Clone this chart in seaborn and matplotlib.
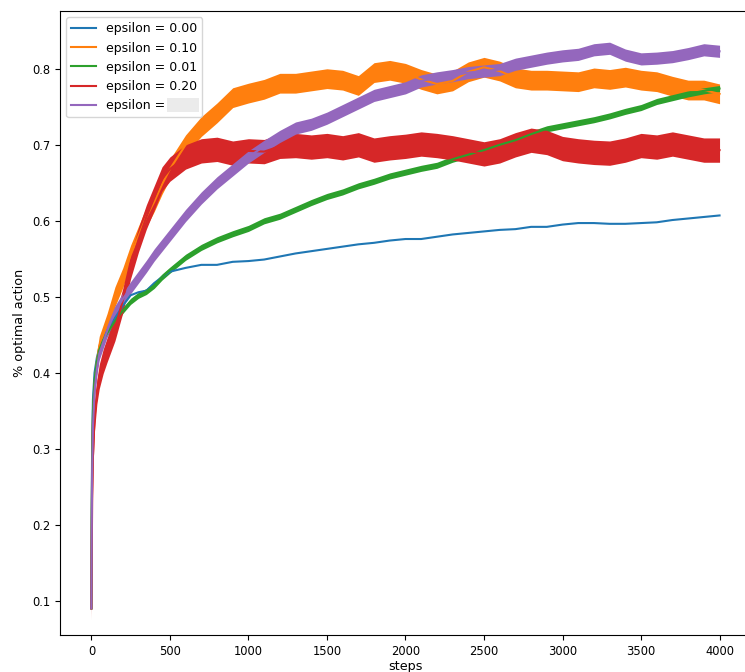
import matplotlib
matplotlib.use("Agg")
import matplotlib.pyplot as plt
from matplotlib.patches import Rectangle
from matplotlib.transforms import IdentityTransform
import numpy as np
import pandas as pd
import seaborn as sns

# Step positions at which the averaged curves are sampled
steps = [0, 2, 5, 10, 20, 35, 50, 75, 100, 150, 200, 250, 300, 350, 400, 450, 500,
         600, 700, 800, 900, 1000, 1100, 1200, 1300, 1400, 1500,
         1600, 1700, 1800, 1900, 2000, 2100, 2200, 2300, 2400, 2500,
         2600, 2700, 2800, 2900, 3000, 3100, 3200, 3300, 3400, 3500,
         3600, 3700, 3800, 3900, 4000]

labels = ["epsilon = 0.00", "epsilon = 0.10", "epsilon = 0.01",
          "epsilon = 0.20", "epsilon = "]

eps_000 = [0.09, 0.22, 0.31, 0.365, 0.40, 0.42, 0.432, 0.445, 0.455, 0.472, 0.488,
           0.502, 0.506, 0.508, 0.518, 0.526, 0.533,
           0.538, 0.542, 0.542, 0.546, 0.547, 0.549, 0.553, 0.557, 0.560, 0.563,
           0.566, 0.569, 0.571, 0.574, 0.576, 0.576, 0.579, 0.582, 0.584, 0.586,
           0.588, 0.589, 0.592, 0.592, 0.595, 0.597, 0.597, 0.596, 0.596, 0.597,
           0.598, 0.601, 0.603, 0.605, 0.607]

eps_010 = [0.09, 0.20, 0.28, 0.34, 0.385, 0.415, 0.435, 0.45, 0.465, 0.50, 0.525,
           0.555, 0.58, 0.605, 0.625, 0.648, 0.668,
           0.700, 0.724, 0.742, 0.762, 0.768, 0.773, 0.781, 0.781, 0.784, 0.787,
           0.785, 0.778, 0.795, 0.798, 0.794, 0.786, 0.780, 0.784, 0.796, 0.802,
           0.797, 0.788, 0.785, 0.785, 0.784, 0.783, 0.788, 0.786, 0.789, 0.785,
           0.783, 0.777, 0.772, 0.772, 0.767]

eps_001 = [0.09, 0.21, 0.29, 0.35, 0.39, 0.415, 0.43, 0.443, 0.452, 0.468, 0.482,
           0.494, 0.502, 0.507, 0.515, 0.526, 0.535,
           0.552, 0.565, 0.575, 0.583, 0.590, 0.600, 0.606, 0.615, 0.624, 0.632,
           0.638, 0.646, 0.652, 0.659, 0.664, 0.669, 0.673, 0.681, 0.687, 0.693,
           0.700, 0.706, 0.714, 0.721, 0.725, 0.729, 0.733, 0.738, 0.744, 0.749,
           0.757, 0.762, 0.767, 0.771, 0.774]

eps_020 = [0.09, 0.16, 0.23, 0.29, 0.34, 0.375, 0.395, 0.415, 0.43, 0.458, 0.495,
           0.54, 0.575, 0.605, 0.63, 0.655, 0.668,
           0.684, 0.692, 0.694, 0.689, 0.692, 0.691, 0.698, 0.699, 0.697, 0.699,
           0.696, 0.700, 0.693, 0.696, 0.698, 0.701, 0.699, 0.696, 0.692, 0.688,
           0.692, 0.700, 0.706, 0.703, 0.695, 0.692, 0.690, 0.689, 0.693, 0.699,
           0.697, 0.701, 0.697, 0.693, 0.693]

eps_other = [0.09, 0.19, 0.27, 0.33, 0.375, 0.405, 0.425, 0.44, 0.455, 0.48, 0.497,
             0.512, 0.526, 0.54, 0.555, 0.568, 0.581,
             0.607, 0.630, 0.650, 0.667, 0.684, 0.698, 0.711, 0.722, 0.727, 0.735,
             0.745, 0.755, 0.765, 0.770, 0.775, 0.784, 0.788, 0.791, 0.795, 0.797,
             0.799, 0.806, 0.810, 0.814, 0.817, 0.819, 0.825, 0.827, 0.818, 0.813,
             0.814, 0.816, 0.820, 0.825, 0.823]

# Half-width of the run-to-run noise band around each curve
noise_spread = [0.0, 0.013, 0.004, 0.016, 0.008]

series = [eps_000, eps_010, eps_001, eps_020, eps_other]
colors = ["#1f77b4", "#ff7f0e", "#2ca02c", "#d62728", "#9467bd"]

fig = plt.figure(figsize=(7.45, 6.72), dpi=100)
ax = fig.add_axes([0.0805, 0.0551, 0.9275, 0.9285])

for label, values, spread, color in zip(labels, series, noise_spread, colors):
    df = pd.DataFrame({"step": steps, "value": values})
    if spread > 0:
        v = np.asarray(values)
        ax.fill_between(steps, v - spread, v + spread, color=color, lw=0)
    sns.lineplot(data=df, x="step", y="value", ax=ax, color=color,
                 label=label, linewidth=1.5)

ax.set_xlim(-200, 4200)
ax.set_ylim(0.055, 0.876)
ax.set_xticks([0, 500, 1000, 1500, 2000, 2500, 3000, 3500, 4000])
ax.set_yticks([0.1, 0.2, 0.3, 0.4, 0.5, 0.6, 0.7, 0.8])
ax.tick_params(labelsize=8.3)
ax.spines["right"].set_visible(False)
ax.set_xlabel("steps", fontsize=9.2, labelpad=1.5)
ax.set_ylabel("% optimal action", fontsize=9.2)
leg = ax.legend(loc="upper left", fontsize=9)

# Blank grey field after the last legend label
fig.canvas.draw()
renderer = fig.canvas.get_renderer()
bb = leg.get_texts()[4].get_window_extent(renderer)
field = Rectangle((bb.x1 - 2, bb.y0), 32, bb.height + 1,
                  transform=IdentityTransform(), facecolor="#ebebeb",
                  edgecolor="none", zorder=10)
fig.add_artist(field)

fig.savefig("out.png", dpi=100)
